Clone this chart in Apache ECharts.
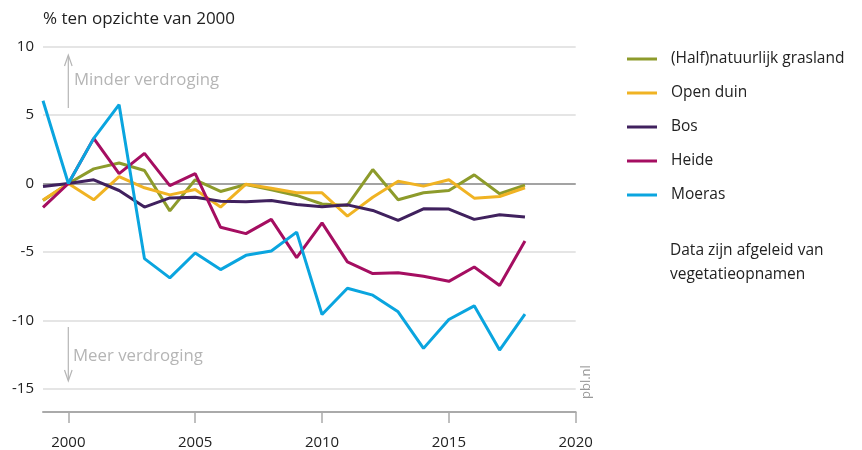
<!DOCTYPE html>
<html>
<head>
<meta charset="utf-8">
<script src="https://cdn.jsdelivr.net/npm/echarts@6/dist/echarts.min.js"></script>
<style>
html,body{margin:0;padding:0;background:#fff;}
#chart{width:862px;height:450px;}
</style>
</head>
<body>
<div id="chart"></div>
<script>
const years = [1999,2000,2001,2002,2003,2004,2005,2006,2007,2008,2009,2010,2011,2012,2013,2014,2015,2016,2017,2018];
const grasland = [-1.25,0,1.07,1.5,0.95,-2.0,0.27,-0.58,-0.07,-0.46,-0.87,-1.5,-1.6,1.02,-1.19,-0.68,-0.51,0.63,-0.75,-0.12];
const openDuin = [-1.2,0,-1.19,0.51,-0.31,-0.83,-0.44,-1.72,-0.05,-0.34,-0.68,-0.68,-2.38,-1.0,0.17,-0.19,0.27,-1.07,-0.95,-0.31];
const bos = [-0.22,0,0.27,-0.51,-1.72,-1.05,-1.0,-1.29,-1.34,-1.24,-1.53,-1.7,-1.56,-1.97,-2.7,-1.85,-1.87,-2.62,-2.28,-2.45];
const heide = [-1.75,0,3.3,0.72,2.2,-0.15,0.72,-3.2,-3.66,-2.62,-5.42,-2.88,-5.73,-6.58,-6.53,-6.78,-7.15,-6.1,-7.45,-4.2];
const moeras = [6.05,0,3.3,5.76,-5.49,-6.9,-5.08,-6.29,-5.25,-4.93,-3.55,-9.57,-7.65,-8.16,-9.38,-12.05,-9.94,-8.94,-12.17,-9.55];
const seriesNames = ['(Half)natuurlijk grasland','Open duin','Bos','Heide','Moeras'];
const seriesColors = ['#8d9b2b','#f0b323','#40215e','#a50e61','#0aa5df'];
const xTicks = [2000,2005,2010,2015,2020];
const yTicks = [-15,-10,-5,0,5,10];

const FONT = '"Open Sans", "Noto Sans", sans-serif';
const allData = [grasland, openDuin, bos, heide, moeras];

const chart = echarts.init(document.getElementById('chart'), null, {renderer:'canvas'});
const series = allData.map((vals, i) => ({
  name: seriesNames[i],
  type: 'line',
  data: years.map((y, j) => [y, vals[j]]),
  symbol: 'none',
  lineStyle: {color: seriesColors[i], width: 3},
  itemStyle: {color: seriesColors[i]},
  z: 3 + i,
  animation: false
}));
series[0].markLine = {
  silent: true,
  symbol: 'none',
  label: {show: false},
  lineStyle: {color: '#8c8c8c', width: 1.5, type: 'solid'},
  data: [{yAxis: 0}],
  z: 2,
  animation: false
};

const option = {
  animation: false,
  backgroundColor: '#fff',
  textStyle: {fontFamily: FONT},
  grid: {left: 43, right: 862 - 575.7, top: 46.7, bottom: 450 - 412.7, containLabel: false},
  xAxis: {
    type: 'value', min: 1999, max: 2020,
    axisLine: {show: true, onZero: false, lineStyle: {color: '#aaaaaa', width: 2}},
    axisTick: {show: true, customValues: xTicks, length: 11, lineStyle: {color: '#aaaaaa', width: 1.5}},
    axisLabel: {customValues: xTicks, formatter: v => String(v), color: '#222', fontSize: 15, fontFamily: FONT, margin: 23},
    splitLine: {show: false}
  },
  yAxis: {
    type: 'value', min: -16.7, max: 10,
    axisLine: {show: false},
    axisTick: {show: false, customValues: yTicks},
    axisLabel: {customValues: yTicks, color: '#222', fontSize: 15, fontFamily: FONT, margin: 9},
    splitLine: {show: true, lineStyle: {color: '#dddddd', width: 1.5}}
  },
  legend: {
    orient: 'vertical',
    left: 622, top: 44,
    icon: 'rect',
    itemWidth: 30, itemHeight: 3,
    itemGap: 14,
    data: seriesNames,
    textStyle: {color: '#222', fontSize: 15.5, fontFamily: FONT, lineHeight: 20, padding: [0,0,0,9]},
    selectedMode: false
  },
  graphic: [
    {type: 'text', left: 43, top: 11, style: {text: '% ten opzichte van 2000', fill: '#222', font: '17px ' + FONT}},
    {type: 'line', shape: {x1: 68.3, y1: 108, x2: 68.3, y2: 56}, style: {stroke: '#b5b5b5', lineWidth: 1.2}},
    {type: 'polyline', shape: {points: [[64.5, 66], [68.3, 55], [72.1, 66]]}, style: {stroke: '#b5b5b5', lineWidth: 1.2, fill: null}},
    {type: 'text', x: 74, y: 80, style: {text: 'Minder verdroging', fill: '#b5b5b5', font: '16.8px ' + FONT, textVerticalAlign: 'middle'}},
    {type: 'line', shape: {x1: 68.3, y1: 327, x2: 68.3, y2: 380}, style: {stroke: '#b5b5b5', lineWidth: 1.2}},
    {type: 'polyline', shape: {points: [[64.5, 370], [68.3, 381], [72.1, 370]]}, style: {stroke: '#b5b5b5', lineWidth: 1.2, fill: null}},
    {type: 'text', x: 73, y: 356, style: {text: 'Meer verdroging', fill: '#b5b5b5', font: '16.8px ' + FONT, textVerticalAlign: 'middle'}},
    {type: 'text', x: 586, y: 399, rotation: Math.PI / 2, style: {text: 'pbl.nl', fill: '#999', font: '13px ' + FONT, textVerticalAlign: 'middle'}},
    {type: 'text', left: 670, top: 239, style: {text: 'Data zijn afgeleid van\nvegetatieopnamen', fill: '#222', font: '15.5px ' + FONT, lineHeight: 24}}
  ],
  series: series
};
chart.setOption(option);
</script>
</body>
</html>
